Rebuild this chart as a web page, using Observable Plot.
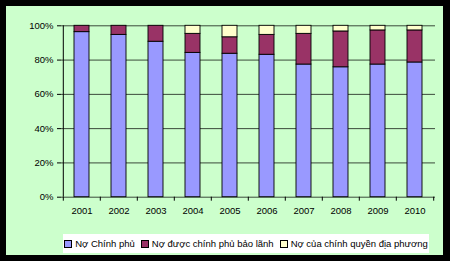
<!DOCTYPE html>
<html><head><meta charset="utf-8">
<script src="https://cdn.jsdelivr.net/npm/d3@7"></script>
<script src="https://cdn.jsdelivr.net/npm/@observablehq/plot@0.6"></script>
<style>
body{margin:0;background:#000;width:450px;height:261px;overflow:hidden;font-family:"Liberation Sans",Arial,sans-serif}
#panel{position:absolute;left:6px;top:6px;width:437px;height:249px;background:#ccffcc}
#chart{position:absolute;left:0;top:0}
#legend{position:absolute;left:57px;top:228px;width:366px;height:19px;background:#fff;display:flex;align-items:center;justify-content:center;font-size:9.5px;color:#000;white-space:nowrap}
.item{display:flex;align-items:center;margin:0 3px}
.sw{width:6px;height:6px;border:1px solid #000;margin-right:3px}
</style></head>
<body>
<div id="panel"><div id="chart"></div><div id="legend"></div></div>
<script>
const years = ["2001","2002","2003","2004","2005","2006","2007","2008","2009","2010"];
const seriesNames = ["Nợ Chính phủ","Nợ được chính phủ bảo lãnh","Nợ của chính quyền địa phương"];
const govt       = [96.3, 94.7, 90.7, 84.2, 83.7, 83.1, 77.4, 75.8, 77.4, 78.6];
const guaranteed = [3.7, 5.3, 9.3, 11.1, 9.6, 11.6, 17.9, 20.9, 19.9, 18.7];
const local      = [0, 0, 0, 4.7, 6.7, 5.3, 4.7, 3.3, 2.7, 2.7];
const yTicks = [0, 20, 40, 60, 80, 100];
const colors = ["#9999ff", "#993366", "#ffffcc"];

const values = [govt, guaranteed, local];
const data = [];
seriesNames.forEach((s, k) => years.forEach((y, i) => data.push({year: y, series: s, value: values[k][i]})));

const W = 437, H = 222, mL = 55, mR = 8, mT = 19.3, mB = 31.3;
const half = (W - mL - mR) / years.length / 2;

const chart = Plot.plot({
  width: W, height: H,
  marginLeft: mL, marginRight: mR, marginTop: mT, marginBottom: mB,
  style: {background: "transparent", fontFamily: "Liberation Sans, Arial, sans-serif", fontSize: "9.5px", color: "#000"},
  x: {domain: years, paddingInner: 0.6, paddingOuter: 0.3, label: null},
  y: {domain: [0, 100], label: null},
  color: {domain: seriesNames, range: colors},
  marks: [
    Plot.ruleY(yTicks, {stroke: "#3a4a3a", strokeWidth: 1}),
    Plot.barY(data, {x: "year", y: "value", fill: "series", stroke: "#000", strokeWidth: 0.9}),
    Plot.axisY({ticks: yTicks, tickFormat: d => d + "%", tickSize: 4, tickPadding: 4, stroke: "#000", label: null}),
    Plot.ruleX([0], {x: () => years[0], dx: -half, y1: 0, y2: 100, stroke: "#000"}),
    Plot.axisX({tickSize: 0, tickPadding: 10, label: null}),
    Plot.axisX({tickSize: 4, dx: -half, text: null, stroke: "#000", label: null}),
    Plot.axisX([years[years.length - 1]], {tickSize: 4, dx: half, text: null, stroke: "#000", label: null})
  ]
});
document.getElementById("chart").appendChild(chart);

const leg = document.getElementById("legend");
seriesNames.forEach((s, k) => {
  const it = document.createElement("div"); it.className = "item";
  const sw = document.createElement("span"); sw.className = "sw"; sw.style.background = colors[k];
  const t = document.createElement("span"); t.textContent = s;
  it.appendChild(sw); it.appendChild(t); leg.appendChild(it);
});
</script>
</body></html>
